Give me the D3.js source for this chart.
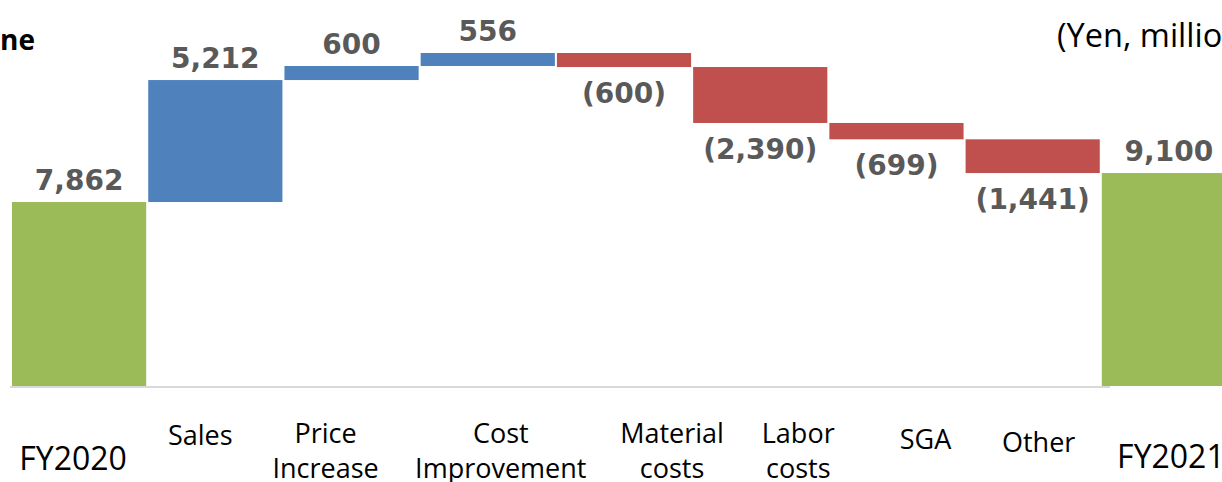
<!DOCTYPE html>
<html>
<head>
    <meta charset="utf-8">
    <title>Operating Income Waterfall</title>
    <script src="https://d3js.org/d3.v7.min.js"></script>
    <style>
        html, body {
            margin: 0;
            background: #fff;
            overflow: hidden;
        }
    </style>
</head>
<body>
    <svg id="svg"></svg>
    <script>
        // data
        const categories = ["FY2020", "Sales", "Price Increase", "Cost Improvement", "Material costs", "Labor costs", "SGA", "Other", "FY2021"];
        const labelLines = [["FY2020"], ["Sales"], ["Price", "Increase"], ["Cost", "Improvement"], ["Material", "costs"], ["Labor", "costs"], ["SGA"], ["Other"], ["FY2021"]];
        const deltas = [7862, 5212, 600, 556, -600, -2390, -699, -1441, 9100];
        const kinds = ["total", "up", "up", "up", "down", "down", "down", "down", "total"];

        const width = 1222, height = 482;
        const colors = { total: "#9bbb59", up: "#4f81bd", down: "#c0504d" };

        // label placement tweaks (the slide's text boxes aren't centred on the bars)
        const labelDx = [-6, -15, -26, 13, 48, 38, 29, 6, 2];
        const labelY = [470, 445, 443, 443, 443, 443, 449, 452, 468];

        const svg = d3.select("#svg")
        .attr("width", width)
        .attr("height", height);

        // build waterfall steps
        let running = 0;
        const bars = categories.map((c, i) => {
            let y0, y1;
            if (kinds[i] === "total") {
                y0 = 0; y1 = deltas[i];
                running = deltas[i];
            } else {
                y0 = running; y1 = running + deltas[i];
                running = y1;
            }
            return { cat: c, value: deltas[i], kind: kinds[i], lo: Math.min(y0, y1), hi: Math.max(y0, y1), lines: labelLines[i], i };
        });

        const x = d3.scaleBand()
        .domain(categories)
        .range([12, 1236])
        .paddingInner(0.015)
        .paddingOuter(0);

        const y = d3.scaleLinear()
        .domain([0, d3.max(bars, d => d.hi)])
        .range([386, 53]);

        // baseline
        svg.append("line")
        .attr("x1", 10).attr("x2", 1110)
        .attr("y1", y(0) + 1).attr("y2", y(0) + 1)
        .attr("stroke", "#d9d9d9")
        .attr("stroke-width", 2);

        svg.selectAll("rect.bar")
        .data(bars)
        .enter()
        .append("rect")
        .attr("class", "bar")
        .attr("x", d => x(d.cat))
        .attr("width", x.bandwidth())
        .attr("y", d => y(d.hi))
        .attr("height", d => y(d.lo) - y(d.hi))
        .attr("fill", d => colors[d.kind]);

        const fmt = d3.format(",");
        svg.selectAll("text.val")
        .data(bars)
        .enter()
        .append("text")
        .attr("class", "val")
        .attr("x", d => x(d.cat) + x.bandwidth() / 2)
        .attr("y", d => d.kind === "down" ? y(d.lo) + 36 : y(d.hi) - 12)
        .attr("text-anchor", "middle")
        .attr("font-family", "DejaVu Sans")
        .attr("font-weight", "bold")
        .attr("font-size", 28)
        .attr("fill", "#595959")
        .text(d => d.value < 0 ? "(" + fmt(-d.value) + ")" : fmt(d.value));

        // category labels
        const catText = svg.selectAll("text.cat")
        .data(bars)
        .enter()
        .append("text")
        .attr("class", "cat")
        .attr("text-anchor", "middle")
        .attr("font-family", "Open Sans")
        .attr("font-size", d => d.kind === "total" ? 32 : 27)
        .attr("fill", "#000")
        .attr("transform", d => `translate(${x(d.cat) + x.bandwidth() / 2 + labelDx[d.i]}, ${labelY[d.i]})`);

        catText.selectAll("tspan")
        .data(d => d.lines)
        .enter()
        .append("tspan")
        .attr("x", 0)
        .attr("dy", (d, j) => j === 0 ? 0 : 35)
        .text(d => d);

        // title tail and unit, cropped at the edges like the reference
        svg.append("text")
        .attr("x", 35).attr("y", 50)
        .attr("text-anchor", "end")
        .attr("font-family", "Open Sans")
        .attr("font-weight", "bold")
        .attr("font-size", 28)
        .text("ne");

        svg.append("text")
        .attr("x", 1057).attr("y", 47)
        .attr("font-family", "Open Sans")
        .attr("font-size", 32.5)
        .text("(Yen, millions)");
    </script>
</body>
</html>
